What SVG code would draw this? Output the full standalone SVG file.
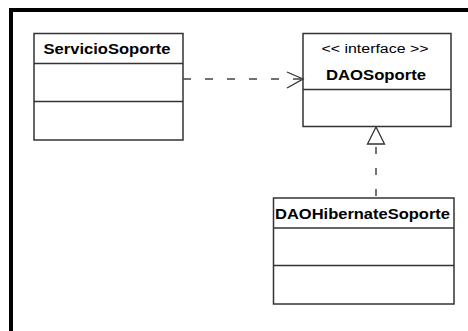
<svg xmlns="http://www.w3.org/2000/svg" width="468" height="331" viewBox="0 0 468 331">
<style>
.box{fill:#fff;stroke:#333;stroke-width:1.5}
.sep{stroke:#333;stroke-width:1.5}
.name{font-family:"Liberation Sans",Arial,sans-serif;font-weight:bold;font-size:14px;fill:#000;text-anchor:middle}
.st{font-family:"Liberation Sans",Arial,sans-serif;font-size:12px;fill:#000;text-anchor:middle}
.dash{stroke:#444;stroke-width:1.5;fill:none;stroke-dasharray:8 14}
.head{stroke:#333;stroke-width:1.3;fill:none}
</style>
<rect width="468" height="331" fill="#fff"/>
<path d="M11,331 V10 H468" fill="none" stroke="#000" stroke-width="4"/>
<g id="ServicioSoporte">
<rect class="box" x="34" y="33.5" width="149" height="106.5"/>
<line class="sep" x1="34" y1="63.5" x2="183" y2="63.5"/>
<line class="sep" x1="34" y1="101.5" x2="183" y2="101.5"/>
<text class="name" x="107" y="53.5" textLength="127" lengthAdjust="spacingAndGlyphs">ServicioSoporte</text>
</g>
<g id="DAOSoporte">
<rect class="box" x="303" y="33.5" width="148" height="93"/>
<line class="sep" x1="303" y1="89.5" x2="451" y2="89.5"/>
<text class="st" x="375" y="53" textLength="107" lengthAdjust="spacingAndGlyphs">&lt;&lt; interface &gt;&gt;</text>
<text class="name" x="376" y="80" textLength="100" lengthAdjust="spacingAndGlyphs">DAOSoporte</text>
</g>
<g id="DAOHibernateSoporte">
<rect class="box" x="273.5" y="198" width="180.5" height="106"/>
<line class="sep" x1="273.5" y1="228" x2="454" y2="228"/>
<line class="sep" x1="273.5" y1="265.5" x2="454" y2="265.5"/>
<text class="name" x="362.5" y="218.5" textLength="175" lengthAdjust="spacingAndGlyphs">DAOHibernateSoporte</text>
</g>
<g id="connectors">
<line class="dash" x1="183" y1="79" x2="302" y2="79"/>
<polyline class="head" points="287,72 303,79 287,88"/>
<line class="dash" x1="376" y1="196" x2="376" y2="144" style="stroke-dasharray:7 14"/>
<polygon class="head" points="376,127 367.5,144 384.5,144" style="fill:#fff"/>
</g>
</svg>
